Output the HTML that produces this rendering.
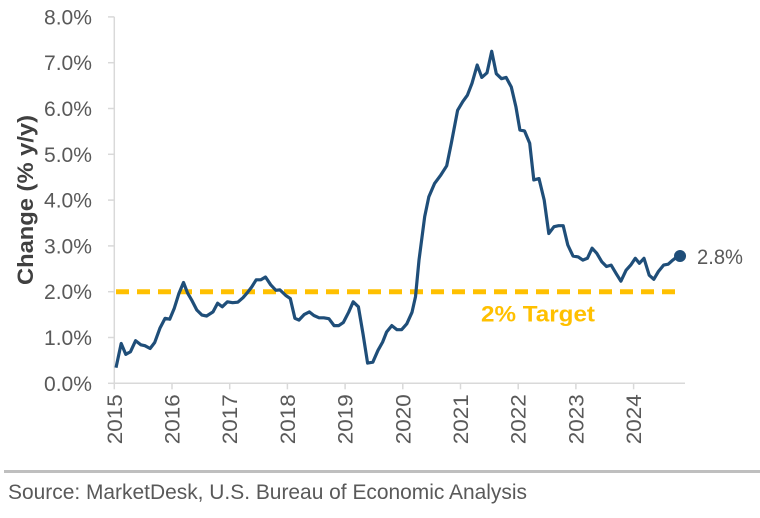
<!DOCTYPE html>
<html><head><meta charset="utf-8"><style>
body{margin:0;background:#fff;width:760px;height:518px;overflow:hidden}
svg{display:block}
text{font-family:"Liberation Sans Narrow","Liberation Sans",sans-serif}
</style></head><body>
<svg id="chart" width="760" height="518">
<g id="axes"></g><g id="plot"></g>
<line x1="4" y1="471.5" x2="760" y2="471.5" stroke="#bfbfbf" stroke-width="3"/>
<text x="8" y="499" font-size="21" fill="#595959" textLength="519" lengthAdjust="spacingAndGlyphs">Source: MarketDesk, U.S. Bureau of Economic Analysis</text>
<text transform="translate(33,200) rotate(-90)" text-anchor="middle" font-size="22" font-weight="bold" fill="#404040" textLength="170" lengthAdjust="spacingAndGlyphs" style="font-family:'Liberation Sans',sans-serif">Change (% y/y)</text>
</svg>
<script>
const yTicks=[0,1,2,3,4,5,6,7,8];
const xYears=[2015,2016,2017,2018,2019,2020,2021,2022,2023,2024];
const target=2;
const dates=[2015.03,2015.12,2015.2,2015.28,2015.37,2015.46,2015.53,2015.62,2015.7,2015.79,2015.88,2015.96,2016.04,2016.12,2016.2,2016.27,2016.34,2016.43,2016.52,2016.6,2016.71,2016.79,2016.87,2016.96,2017.05,2017.14,2017.23,2017.3,2017.38,2017.46,2017.54,2017.62,2017.71,2017.8,2017.87,2017.97,2018.05,2018.13,2018.2,2018.29,2018.38,2018.46,2018.55,2018.63,2018.72,2018.81,2018.89,2018.97,2019.06,2019.14,2019.23,2019.31,2019.39,2019.48,2019.57,2019.65,2019.72,2019.81,2019.9,2019.98,2020.07,2020.16,2020.22,2020.28,2020.38,2020.45,2020.55,2020.66,2020.76,2020.84,2020.95,2021.04,2021.12,2021.2,2021.29,2021.37,2021.46,2021.54,2021.62,2021.71,2021.79,2021.88,2021.96,2022.03,2022.11,2022.2,2022.27,2022.36,2022.45,2022.53,2022.62,2022.7,2022.78,2022.86,2022.95,2023.04,2023.12,2023.2,2023.28,2023.36,2023.45,2023.53,2023.61,2023.7,2023.78,2023.87,2023.95,2024.03,2024.1,2024.18,2024.27,2024.35,2024.43,2024.52,2024.6,2024.68,2024.77];
const values=[0.34,0.87,0.63,0.69,0.93,0.84,0.82,0.76,0.89,1.2,1.42,1.4,1.64,1.96,2.2,1.97,1.82,1.6,1.49,1.47,1.56,1.75,1.67,1.78,1.76,1.77,1.87,1.97,2.1,2.26,2.26,2.32,2.15,2.03,2.04,1.92,1.85,1.42,1.38,1.5,1.56,1.48,1.43,1.43,1.41,1.26,1.26,1.33,1.55,1.78,1.67,1.08,0.44,0.46,0.72,0.9,1.12,1.26,1.17,1.17,1.3,1.55,1.89,2.69,3.64,4.07,4.36,4.55,4.75,5.24,5.96,6.15,6.29,6.55,6.95,6.68,6.78,7.25,6.76,6.65,6.68,6.47,6.04,5.53,5.51,5.24,4.44,4.47,4.0,3.27,3.42,3.44,3.44,3.02,2.78,2.76,2.69,2.73,2.95,2.84,2.65,2.55,2.58,2.39,2.23,2.47,2.58,2.73,2.62,2.73,2.36,2.27,2.44,2.58,2.6,2.69,2.78];
const X=y=>114.3+(y-2015)*57.7;
const Y=v=>383.3-v*45.8;
const NS="http://www.w3.org/2000/svg";
function mk(tag,attrs,parent,txt){const e=document.createElementNS(NS,tag);for(const k in attrs)e.setAttribute(k,attrs[k]);if(txt!=null)e.textContent=txt;parent.appendChild(e);return e;}
const axes=document.getElementById('axes'),plot=document.getElementById('plot');
let e=mk('line',{x1:114.3,y1:Y(8),x2:114.3,y2:Y(0),stroke:'#d9d9d9','stroke-width':1.5},axes);


e=mk('line',{x1:114.3,y1:Y(0),x2:685,y2:Y(0),stroke:'#d9d9d9','stroke-width':1.5},axes);


yTicks.forEach(v=>{
 let t=mk('line',{x1:108,y1:Y(v),x2:114.3,y2:Y(v),stroke:'#d9d9d9','stroke-width':1.5},axes);
 
 
 let l=mk('text',{x:92,y:Y(v)+7.5,'text-anchor':'end','font-size':21,fill:'#595959',textLength:48,lengthAdjust:'spacingAndGlyphs'},axes,v.toFixed(1)+'%');
 
 
});
xYears.forEach(yr=>{
 let t=mk('line',{x1:X(yr),y1:Y(0),x2:X(yr),y2:Y(0)+6,stroke:'#d9d9d9','stroke-width':1.5},axes);
 
 
 let l=mk('text',{transform:`translate(${X(yr)+7.5},${Y(0)+11}) rotate(-90)`,'text-anchor':'end','font-size':21,fill:'#595959',textLength:50,lengthAdjust:'spacingAndGlyphs'},axes,String(yr));
 
 
});
e=mk('line',{x1:116,y1:Y(target),x2:677,y2:Y(target),stroke:'#ffc000','stroke-width':5,'stroke-dasharray':'13 8'},plot);


e=mk('text',{x:481,y:Y(target)+30,'font-size':22,'font-weight':'bold',fill:'#ffc000',textLength:114,lengthAdjust:'spacingAndGlyphs'},plot,'2% Target');


const pts=dates.map((d,i)=>X(d).toFixed(1)+','+Y(values[i]).toFixed(1)).join(' ');
e=mk('polyline',{points:pts,fill:'none',stroke:'#1f4e79','stroke-width':3.2,'stroke-linejoin':'round'},plot);


const li=dates.length-1;
e=mk('circle',{cx:X(dates[li])+2,cy:Y(values[li]),r:6,fill:'#1f4e79'},plot);


e=mk('text',{x:697,y:Y(values[li])+8,'font-size':21,fill:'#595959',textLength:46,lengthAdjust:'spacingAndGlyphs'},plot,values[li].toFixed(1)+'%');


</script>
</body></html>
